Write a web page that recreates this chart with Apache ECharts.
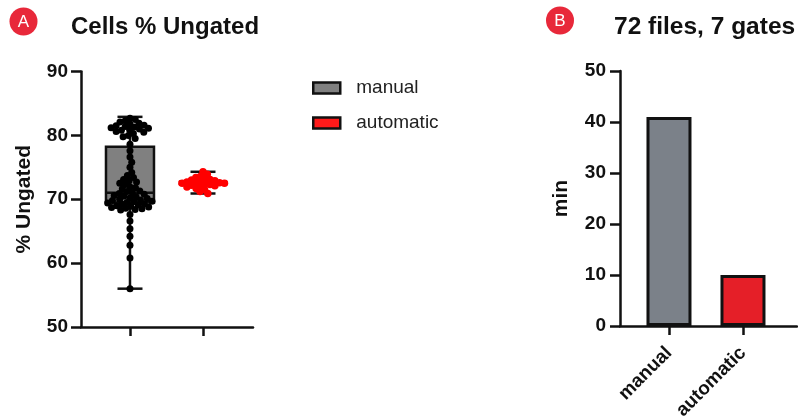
<!DOCTYPE html>
<html>
<head>
<meta charset="utf-8">
<script src="https://cdn.jsdelivr.net/npm/echarts@6/dist/echarts.min.js"></script>
<style>
html,body{margin:0;padding:0;background:#fff;}
#chart{width:798px;height:417px;}
</style>
</head>
<body>
<div id="chart"></div>
<script>
// ---------- data ----------
const groups = ['manual', 'automatic'];
// Panel A: % Ungated per file
const manualValues = [
  82.7, 82.5, 82.3, 82.1, 81.9, 81.8, 81.6, 81.5, 81.4, 81.3, 81.2, 81.1, 81.0, 80.9, 80.8, 80.6, 80.5,
  80.3, 80.0, 79.8, 79.5,
  78.6, 77.6, 76.6, 75.8, 75.0,
  74.2, 73.7, 73.4, 73.1, 72.9, 72.7, 72.5, 72.3, 71.9, 71.8, 71.6, 71.3, 71.2, 71.0, 70.9,
  70.8, 70.6, 70.5, 70.4, 70.2, 70.1, 70.0, 69.9, 69.8, 69.7, 69.6, 69.5, 69.4, 69.3, 69.2, 69.1, 69.0, 68.9,
  68.8, 68.7, 68.6, 68.5, 68.4, 68.3,
  67.6, 66.6, 65.4, 64.2, 62.8, 60.8, 56.0
];
const automaticValues = [
  74.3, 73.9, 73.6, 73.4, 73.2, 73.1, 73.0, 72.9, 72.8, 72.7, 72.6, 72.6,
  72.5, 72.5, 72.4, 72.3, 72.2, 72.1, 72.0, 71.9, 71.7, 71.5, 71.2, 70.9
];
// box stats: [min, Q1, median, Q3, max]
const manualBox = [56.0, 69.5, 71.0, 78.2, 82.9];
const automaticBox = [70.9, 72.2, 72.5, 72.9, 74.3];
const yTicksA = [50, 60, 70, 80, 90];
// Panel B: minutes
const minutesValues = [41, 10];
const yTicksB = [0, 10, 20, 30, 40, 50];

// ---------- styles ----------
const FONT = 'Liberation Sans, Arial, Helvetica, sans-serif';
const BLACK = '#111';
const boxColors = ['#808080', '#ff1a1a'];
const barColors = ['#7b8189', '#e51f28'];

function renderBox(params, api) {
  const x = api.value(0);
  const mn = api.coord([x, api.value(1)]);
  const q1 = api.coord([x, api.value(2)]);
  const md = api.coord([x, api.value(3)]);
  const q3 = api.coord([x, api.value(4)]);
  const mx = api.coord([x, api.value(5)]);
  const cx = mn[0];
  const bw = 48, cw = 25;
  const fill = api.visual('color');
  const isManual = params.seriesIndex === 0;
  const boxStroke = isManual ? BLACK : '#d40000';
  const ls = { stroke: BLACK, lineWidth: 2.5 };
  return {
    type: 'group',
    children: [
      { type: 'line', shape: { x1: cx, y1: mx[1], x2: cx, y2: q3[1] }, style: ls },
      { type: 'line', shape: { x1: cx, y1: q1[1], x2: cx, y2: mn[1] }, style: ls },
      { type: 'line', shape: { x1: cx - cw / 2, y1: mx[1], x2: cx + cw / 2, y2: mx[1] }, style: ls },
      { type: 'line', shape: { x1: cx - cw / 2, y1: mn[1], x2: cx + cw / 2, y2: mn[1] }, style: ls },
      { type: 'rect', shape: { x: cx - bw / 2, y: q3[1], width: bw, height: q1[1] - q3[1] },
        style: { fill: fill, stroke: boxStroke, lineWidth: isManual ? 2.5 : 1 } },
      { type: 'line', shape: { x1: cx - bw / 2, y1: md[1], x2: cx + bw / 2, y2: md[1] },
        style: { stroke: isManual ? BLACK : '#d40000', lineWidth: isManual ? 2.5 : 1 } }
    ]
  };
}

const axisLineStyle = { color: BLACK, width: 2.5 };
const tickLabel = { color: BLACK, fontFamily: FONT, fontWeight: 'bold', fontSize: 19 };

const option = {
  animation: false,
  backgroundColor: '#fff',
  title: [
    { text: 'Cells % Ungated', left: 71, top: 15, padding: 0,
      textStyle: { fontFamily: FONT, fontWeight: 'bold', fontSize: 24, color: BLACK } },
    { text: '72 files, 7 gates', left: 614, top: 15, padding: 0,
      textStyle: { fontFamily: FONT, fontWeight: 'bold', fontSize: 24.5, color: BLACK } }
  ],
  graphic: [
    { type: 'circle', shape: { cx: 23.5, cy: 21.5, r: 14 }, style: { fill: '#e8283a' } },
    { type: 'text', x: 23.5, y: 22, style: { text: 'A', fill: '#fff', fontFamily: FONT, fontSize: 17,
        align: 'center', verticalAlign: 'middle' } },
    { type: 'circle', shape: { cx: 560, cy: 20.5, r: 14 }, style: { fill: '#e8283a' } },
    { type: 'text', x: 560, y: 21, style: { text: 'B', fill: '#fff', fontFamily: FONT, fontSize: 17,
        align: 'center', verticalAlign: 'middle' } }
  ],
  legend: {
    data: groups,
    orient: 'vertical',
    left: 312, top: 78, padding: 0,
    itemWidth: 27, itemHeight: 11,
    itemGap: 15,
    icon: 'rect',
    itemStyle: { borderColor: BLACK, borderWidth: 2.5 },
    textStyle: { fontFamily: FONT, fontSize: 19, color: '#222', lineHeight: 20, padding: [0, 0, 0, 11] },
    selectedMode: false
  },
  grid: [
    { left: 81, top: 71.5, width: 172, height: 255.5, outerBoundsMode: 'none', containLabel: false },
    { left: 620, top: 71, width: 177, height: 255, outerBoundsMode: 'none', containLabel: false }
  ],
  xAxis: [
    { type: 'value', gridIndex: 0, min: 0.329, max: 2.685,
      axisLine: { show: true, onZero: false, lineStyle: axisLineStyle },
      axisTick: { show: true, length: 9, lineStyle: axisLineStyle, customValues: [1, 2] },
      axisLabel: { show: false },
      splitLine: { show: false } },
    { type: 'value', gridIndex: 1, min: 0.338, max: 2.73,
      axisLine: { show: true, onZero: false, lineStyle: axisLineStyle },
      axisTick: { show: true, length: 9, lineStyle: axisLineStyle, customValues: [1, 2] },
      axisLabel: { show: true, customValues: [1, 2], rotate: 45, margin: 24,
        formatter: v => groups[Math.round(v) - 1] || '',
        color: BLACK, fontFamily: FONT, fontWeight: 'bold', fontSize: 19 },
      splitLine: { show: false } }
  ],
  yAxis: [
    { type: 'value', gridIndex: 0, min: yTicksA[0], max: yTicksA[yTicksA.length - 1], interval: 10,
      name: '% Ungated', nameLocation: 'middle', nameGap: 46, nameRotate: 90,
      nameTextStyle: { fontFamily: FONT, fontWeight: 'bold', fontSize: 21, color: BLACK },
      axisLine: { show: true, lineStyle: axisLineStyle },
      axisTick: { show: true, length: 10, lineStyle: axisLineStyle },
      axisLabel: Object.assign({ margin: 13 }, tickLabel),
      splitLine: { show: false } },
    { type: 'value', gridIndex: 1, min: yTicksB[0], max: yTicksB[yTicksB.length - 1], interval: 10,
      name: 'min', nameLocation: 'middle', nameGap: 48, nameRotate: 90,
      nameTextStyle: { fontFamily: FONT, fontWeight: 'bold', fontSize: 21, color: BLACK },
      axisLine: { show: true, lineStyle: axisLineStyle },
      axisTick: { show: true, length: 10, lineStyle: axisLineStyle },
      axisLabel: Object.assign({ margin: 14 }, tickLabel),
      splitLine: { show: false } }
  ],
  series: [
    { name: 'manual', type: 'custom', xAxisIndex: 0, yAxisIndex: 0,
      itemStyle: { color: boxColors[0] }, renderItem: renderBox,
      encode: { x: 0, y: [1, 2, 3, 4, 5] },
      data: [[1].concat(manualBox)], z: 2 },
    { name: 'automatic', type: 'custom', xAxisIndex: 0, yAxisIndex: 0,
      itemStyle: { color: boxColors[1] }, renderItem: renderBox,
      encode: { x: 0, y: [1, 2, 3, 4, 5] },
      data: [[2].concat(automaticBox)], z: 2 },
    { id: 'dotsManual', name: 'manual points', type: 'scatter', xAxisIndex: 0, yAxisIndex: 0,
      symbolSize: 7, itemStyle: { color: '#000', opacity: 1 }, data: [], z: 5 },
    { id: 'dotsAutomatic', name: 'automatic points', type: 'scatter', xAxisIndex: 0, yAxisIndex: 0,
      symbolSize: 7.5, itemStyle: { color: '#ff0000', opacity: 1 }, data: [], z: 5 },
    { name: 'minutes', type: 'bar', xAxisIndex: 1, yAxisIndex: 1, barWidth: 45,
      data: minutesValues.map((v, i) => ({ value: [i + 1, v],
        itemStyle: { color: barColors[i], borderColor: BLACK, borderWidth: 3 } })) }
  ]
};

const chart = echarts.init(document.getElementById('chart'), null, { renderer: 'canvas' });
chart.setOption(option);

// beeswarm offsets computed from the library's own scales
function swarm(values, center, d) {
  const k = chart.convertToPixel({ xAxisIndex: 0 }, 2) - chart.convertToPixel({ xAxisIndex: 0 }, 1);
  const pts = values.map(v => ({ v, py: chart.convertToPixel({ yAxisIndex: 0 }, v) }));
  const placed = [];
  const out = [];
  pts.forEach(p => {
    const near = placed.filter(q => Math.abs(q.py - p.py) < d);
    const cands = [0];
    near.forEach(q => {
      const dx = Math.sqrt(d * d - (q.py - p.py) * (q.py - p.py));
      cands.push(q.px + dx + 0.01, q.px - dx - 0.01);
    });
    cands.sort((a, b) => Math.abs(a) - Math.abs(b));
    let chosen = 0;
    for (const c of cands) {
      if (near.every(q => (q.px - c) * (q.px - c) + (q.py - p.py) * (q.py - p.py) >= d * d - 0.001)) {
        chosen = c; break;
      }
    }
    placed.push({ px: chosen, py: p.py });
    out.push([center + chosen / k, p.v]);
  });
  return out;
}

chart.setOption({
  series: [
    { id: 'dotsManual', data: swarm(manualValues, 1, 5.4) },
    { id: 'dotsAutomatic', data: swarm(automaticValues, 2, 5.0) }
  ]
});
</script>
</body>
</html>
